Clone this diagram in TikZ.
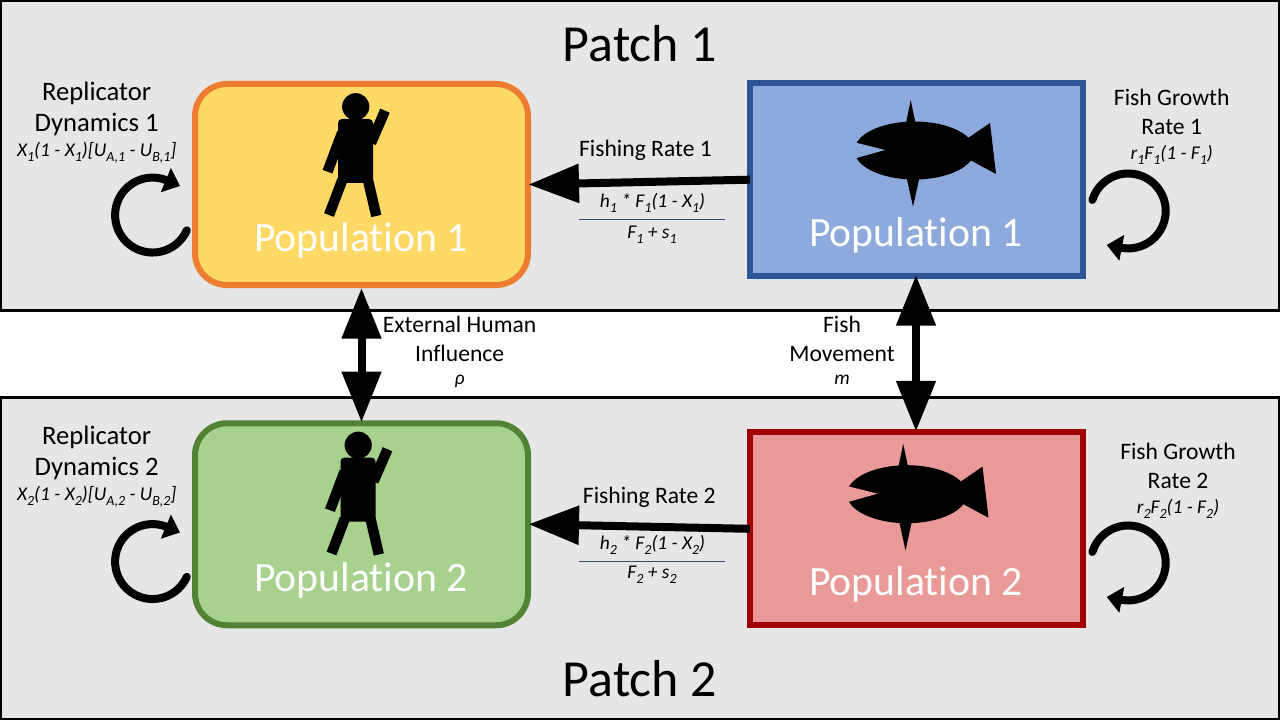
\documentclass[tikz,border=0pt]{standalone}
\usepackage{fontspec}
\setmainfont{Carlito}[Ligatures=NoCommon,RawFeature={-liga;-clig;-calt}]
\usetikzlibrary{positioning}
\usetikzlibrary{arrows.meta}

\definecolor{patchgray}{HTML}{E6E6E6}
\definecolor{humanfill}{HTML}{FFD966}
\definecolor{humanline}{HTML}{ED7D31}
\definecolor{greenfill}{HTML}{A9D18E}
\definecolor{greenline}{HTML}{548235}
\definecolor{bluefill}{HTML}{8EA9DB}
\definecolor{blueline}{HTML}{2F5597}
\definecolor{redfill}{HTML}{EA9999}
\definecolor{redline}{HTML}{A00000}
\definecolor{fracline}{HTML}{3B5070}
\newcommand{\low}[1]{\raisebox{-3.6pt}{\fontsize{10.5pt}{10.5pt}\selectfont #1}}

\begin{document}
\begin{tikzpicture}[x=0.75pt,y=-0.75pt]
\tikzstyle{patch}=[draw=black,line width=2.25pt,fill=patchgray]
\tikzstyle{humanbox}=[draw,line width=4.5pt,rounded corners=24pt,minimum width=249.75pt,inner sep=0pt]
\tikzstyle{fishbox}=[draw,line width=4.5pt,minimum width=249.75pt,inner sep=0pt]
\tikzstyle{popname}=[text=white,font=\fontsize{31.3pt}{36pt}\selectfont,inner sep=0pt]
\tikzstyle{patchname}=[font=\fontsize{39pt}{44pt}\selectfont,inner sep=0pt]
\tikzstyle{bigtitle}=[align=center,font=\fontsize{20pt}{23.6pt}\selectfont,inner sep=0pt]
\tikzstyle{title}=[align=center,font=\fontsize{17.7pt}{21.6pt}\selectfont,inner sep=0pt]
\tikzstyle{formula}=[font=\fontsize{14.6pt}{16pt}\selectfont\itshape,inner sep=0pt]
\tikzstyle{flow}=[line width=6pt,-{Triangle[length=38pt,width=28pt]}]
\tikzstyle{twoway}=[line width=6pt,{Triangle[length=38pt,width=28.5pt]}-{Triangle[length=38pt,width=28.5pt]}]
\tikzstyle{cycle}=[line width=6pt,line cap=round,-{Triangle[length=11.5pt,width=19pt]}]
\tikzstyle{limb}=[line width=7.8pt]
\useasboundingbox (0,0) rectangle (1280,720);
%%%%%%%%%%%%%%%%%%%%%%%%%%%%%%%%%%%%%%%%%%%%%%%%%%%%%%%%%%%%%%%%%%%%%%%%
%% Draw patches and boxes
%%%%%%%%%%%%%%%%%%%%%%%%%%%%%%%%%%%%%%%%%%%%%%%%%%%%%%%%%%%%%%%%%%%%%%%%
\draw[patch] (0.5,0.5) rectangle (1279.5,310.3);
\draw[patch] (0.5,397.5) rectangle (1279.5,719.5);

\node[humanbox,draw=humanline,fill=humanfill,minimum height=150.75pt] (human1) at (361.5,184.5) {};
\node[humanbox,draw=greenline,fill=greenfill,minimum height=151.5pt] (human2) at (361.5,524.25) {};
\node[fishbox,draw=blueline,fill=bluefill,minimum height=144.4pt] (fish1) at (916,179.75) {};
\node[fishbox,draw=redline,fill=redfill,minimum height=144.4pt] (fish2) at (916,528.75) {};

\node[patchname] (patch1) at (640,44) {Patch 1};
\node[patchname] (patch2) at (640,679) {Patch 2};
\node[popname] (humanname1) at (361,240.5) {Population 1};
\node[popname] (humanname2) at (361,580.5) {Population 2};
\node[popname] (fishname1) at (916,235.5) {Population 1};
\node[popname] (fishname2) at (916,584.5) {Population 2};
%%%%%%%%%%%%%%%%%%%%%%%%%%%%%%%%%%%%%%%%%%%%%%%%%%%%%%%%%%%%%%%%%%%%%%%%

%%%%%%%%%%%%%%%%%%%%%%%%%%%%%%%%%%%%%%%%%%%%%%%%%%%%%%%%%%%%%%%%%%%%%%%%
%% Draw people
%%%%%%%%%%%%%%%%%%%%%%%%%%%%%%%%%%%%%%%%%%%%%%%%%%%%%%%%%%%%%%%%%%%%%%%%
% patch 1
\begin{scope}
\fill (355.7,106.7) circle (10.2pt);
\fill[rounded corners=3pt] (338,119) rectangle (373,183);
\draw[limb] (342,133) -- (327.5,171.7);
\draw[limb] (371,143) -- (385,110.7);
\draw[limb] (342.3,180) -- (329,215);
\draw[limb] (368,180) -- (376.3,216);
\end{scope}
% patch 2
\begin{scope}[shift={(2.5,338.5)}]
\fill (355.7,106.7) circle (10.2pt);
\fill[rounded corners=3pt] (338,119) rectangle (373,183);
\draw[limb] (342,133) -- (327.5,171.7);
\draw[limb] (371,143) -- (385,110.7);
\draw[limb] (342.3,180) -- (329,215);
\draw[limb] (368,180) -- (376.3,216);
\end{scope}
%%%%%%%%%%%%%%%%%%%%%%%%%%%%%%%%%%%%%%%%%%%%%%%%%%%%%%%%%%%%%%%%%%%%%%%%

%%%%%%%%%%%%%%%%%%%%%%%%%%%%%%%%%%%%%%%%%%%%%%%%%%%%%%%%%%%%%%%%%%%%%%%%
%% Draw fish
%%%%%%%%%%%%%%%%%%%%%%%%%%%%%%%%%%%%%%%%%%%%%%%%%%%%%%%%%%%%%%%%%%%%%%%%
% patch 1
\begin{scope}
\fill (914.5,150.5) ellipse (45pt and 21.75pt);
\fill (968,138) -- (990,123) -- (996,174) -- (970,160) -- (950,150) -- cycle;
\fill (910.7,100) -- (906,123) -- (915.5,123) -- cycle;
\fill (913,206.7) -- (906.7,178) -- (919.3,178) -- cycle;
\fill[bluefill] (885,150) -- (850,141.2) -- (850,159.8) -- cycle;
\end{scope}
% patch 2
\begin{scope}[shift={(-7.5,343.7)}]
\fill (914.5,150.5) ellipse (45pt and 21.75pt);
\fill (968,138) -- (990,123) -- (996,174) -- (970,160) -- (950,150) -- cycle;
\fill (910.7,100) -- (906,123) -- (915.5,123) -- cycle;
\fill (913,206.7) -- (906.7,178) -- (919.3,178) -- cycle;
\fill[redfill] (885,150) -- (850,141.2) -- (850,159.8) -- cycle;
\end{scope}
%%%%%%%%%%%%%%%%%%%%%%%%%%%%%%%%%%%%%%%%%%%%%%%%%%%%%%%%%%%%%%%%%%%%%%%%

%%%%%%%%%%%%%%%%%%%%%%%%%%%%%%%%%%%%%%%%%%%%%%%%%%%%%%%%%%%%%%%%%%%%%%%%
%% Draw connections
%%%%%%%%%%%%%%%%%%%%%%%%%%%%%%%%%%%%%%%%%%%%%%%%%%%%%%%%%%%%%%%%%%%%%%%%
\draw[flow,shorten <=-2.5pt,shorten >=-2pt] (fish1.west) -- (human1.east);
\draw[flow,shorten <=-2.5pt,shorten >=-2pt] (fish2.west) -- (human2.east);
\draw[twoway,shorten >=-1.5pt] (human1.south) -- (human2.north);
\draw[twoway,shorten <=-3pt,shorten >=-1.5pt] (fish1.south) -- (fish2.north);

% self loops
\coordinate (replstart1) at (186.8,230.3);
\coordinate (replstart2) at (186.8,576.8);
\coordinate (replhead1) at (180,186);
\coordinate (replhead2) at (180,532.5);
\coordinate (growstart1) at (1092.4,200);
\coordinate (growstart2) at (1092.4,552);
\coordinate (growhead1) at (1106.7,245);
\coordinate (growhead2) at (1106.7,597);
\draw[cycle] (replstart1) arc[start angle=-24,end angle=-289,radius=28.1pt] -- (replhead1);
\draw[cycle] (replstart2) arc[start angle=-24,end angle=-289,radius=28.1pt] -- (replhead2);
\draw[cycle] (growstart1) arc[start angle=163,end angle=-102,radius=28.1pt] -- (growhead1);
\draw[cycle] (growstart2) arc[start angle=163,end angle=-102,radius=28.1pt] -- (growhead2);
%%%%%%%%%%%%%%%%%%%%%%%%%%%%%%%%%%%%%%%%%%%%%%%%%%%%%%%%%%%%%%%%%%%%%%%%

%%%%%%%%%%%%%%%%%%%%%%%%%%%%%%%%%%%%%%%%%%%%%%%%%%%%%%%%%%%%%%%%%%%%%%%%
%% Draw labels
%%%%%%%%%%%%%%%%%%%%%%%%%%%%%%%%%%%%%%%%%%%%%%%%%%%%%%%%%%%%%%%%%%%%%%%%
\node[bigtitle] (repl1) at (96.7,109) {Replicator\\Dynamics 1};
\node[formula] (replrate1) at (96.7,153) {X\low{1}(1 - X\low{1})[U\low{A,1} - U\low{B,1}]};
\node[bigtitle] (repl2) at (96.7,453) {Replicator\\Dynamics 2};
\node[formula] (replrate2) at (96.7,497) {X\low{2}(1 - X\low{2})[U\low{A,2} - U\low{B,2}]};

\node[title] (grow1) at (1171.7,112) {Fish Growth\\Rate 1};
\node[formula] (growrate1) at (1171.7,154.5) {r\low{1}F\low{1}(1 - F\low{1})};
\node[title] (grow2) at (1178,465.5) {Fish Growth\\Rate 2};
\node[formula] (growrate2) at (1178,508.5) {r\low{2}F\low{2}(1 - F\low{2})};

\node[title] (fishing1) at (645.5,150.3) {Fishing Rate 1};
\node[formula] (num1) at (652.5,203) {h\low{1} * F\low{1}(1 - X\low{1})};
\coordinate (fracleft1) at (579,220);
\coordinate (fracright1) at (725,220);
\draw[fracline,line width=0.75pt] (fracleft1) -- (fracright1);
\node[formula] (den1) at (652,234.5) {F\low{1} + s\low{1}};

\node[title] (fishing2) at (649.3,497.7) {Fishing Rate 2};
\node[formula] (num2) at (652.5,544.5) {h\low{2} * F\low{2}(1 - X\low{2})};
\coordinate (fracleft2) at (579,561);
\coordinate (fracright2) at (725,561);
\draw[fracline,line width=0.75pt] (fracleft2) -- (fracright2);
\node[formula] (den2) at (652,575) {F\low{2} + s\low{2}};

\node[title] (external) at (459.6,339) {External Human\\Influence};
\node[formula] (rho) at (459.6,381.7) {ρ};
\node[title] (movement) at (842,338.5) {Fish\\Movement};
\node[formula] (move) at (842,380) {m};
%%%%%%%%%%%%%%%%%%%%%%%%%%%%%%%%%%%%%%%%%%%%%%%%%%%%%%%%%%%%%%%%%%%%%%%%
\end{tikzpicture}
\end{document}
